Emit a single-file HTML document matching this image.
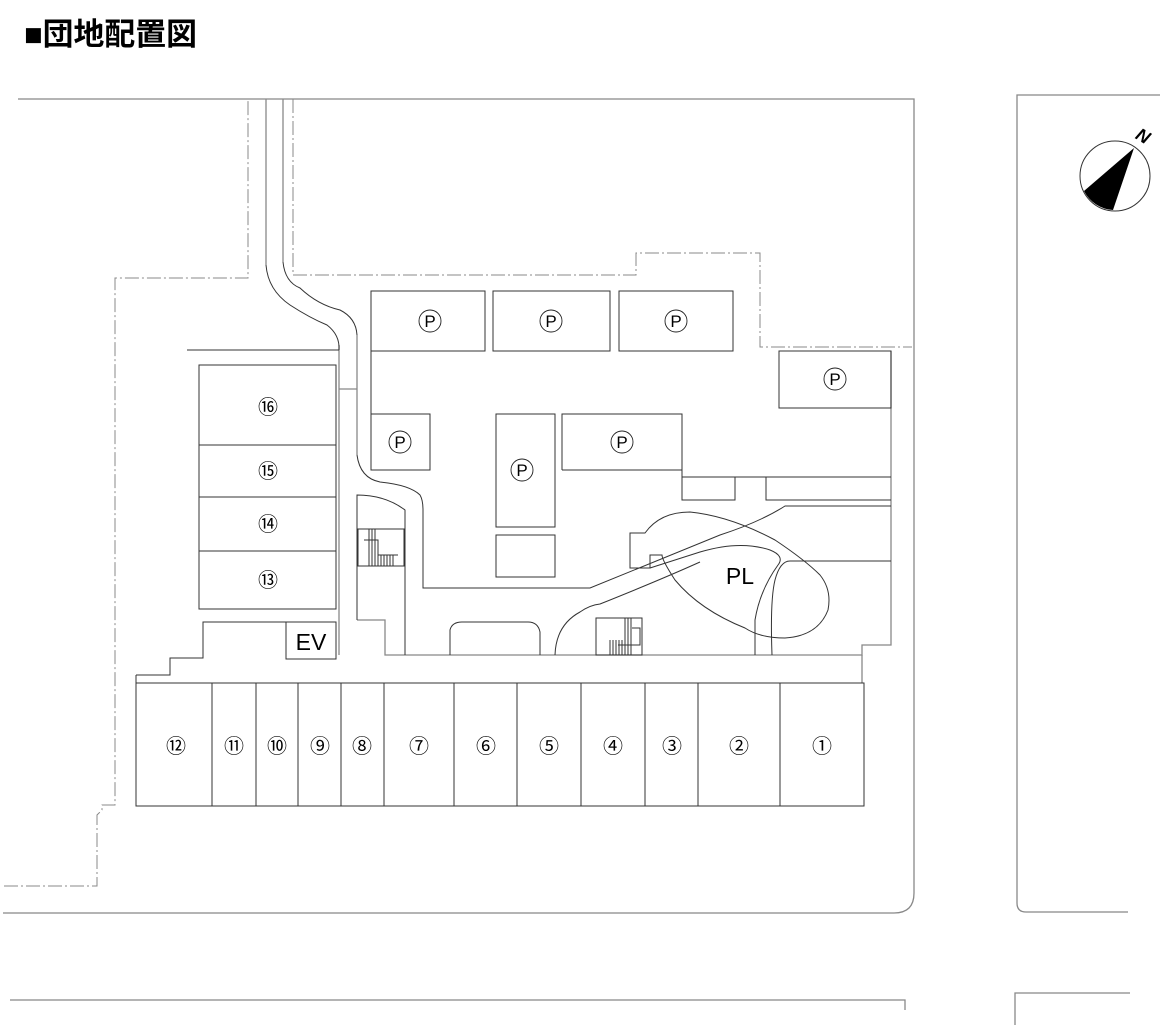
<!DOCTYPE html>
<html><head><meta charset="utf-8"><style>
html,body{margin:0;padding:0;background:#fff;width:1166px;height:1025px;overflow:hidden}
svg{display:block}
text{font-family:"Liberation Sans","Noto Sans CJK JP",sans-serif}
</style></head><body>
<svg width="1166" height="1025" viewBox="0 0 1166 1025" xmlns="http://www.w3.org/2000/svg">
<text x="24" y="45" font-size="31" font-weight="bold" fill="#000" textLength="173" lengthAdjust="spacingAndGlyphs" font-family="'Liberation Sans','Noto Sans CJK JP',sans-serif">■団地配置図</text>

<g fill="none" stroke="#888" stroke-width="1.3">
<path d="M18,99 H914 V893 Q914,913 894,913 H3"/>
<path d="M1160,95 H1017 V903 Q1017,912 1026,912 H1128"/>
<path d="M10,1000 H905 V1010"/>
<path d="M1130,993 H1015 V1025"/>
<path d="M357,620 H385 V655 H862 V645 H891 V351"/>
<path d="M862,655 V683"/>
<path d="M339,389 H357"/>
<path d="M339,345 V655"/>
<path d="M357,335 V455"/>
<path d="M266,99 V265"/>
<path d="M283,99 V262"/>
</g>
<g fill="none" stroke="#888" stroke-width="1" stroke-dasharray="14,3,2,3">
<path d="M4,886 H97 V815 L102,810 V805 H115 V278 H248 V99"/>
<path d="M293,99 V275 H636 V253 H760 V347 H912"/>
</g>

<g fill="none" stroke="#333" stroke-width="1">
<path d="M266,265 Q268,290 290,305 Q310,318 327,325 Q340,335 339,350"/>
<path d="M283,262 Q285,282 300,288 Q318,305 340,310 Q356,318 357,335"/>
<path d="M357,455 Q360,478 380,482 Q410,485 420,495 Q423,500 423,510 V588 H590 L720,535 Q760,522 785,506 H891"/>
<path d="M357,510 V495 Q385,495 405,510 V655"/>
<path d="M357,510 V620"/>
<rect x="371" y="291" width="114" height="60"/>
<rect x="493" y="291" width="117" height="60"/>
<rect x="619" y="291" width="114" height="60"/>
<rect x="779" y="351" width="112" height="57"/>
<rect x="371" y="414" width="59" height="56"/>
<rect x="496" y="414" width="59" height="113"/>
<rect x="496" y="535" width="59" height="42"/>
<path d="M371,351 V414 M430,470 V414"/>
<path d="M562,470 V414 H682 V477 H891 M562,470 H682"/>
<path d="M682,477 V500 H735 V477 M766,477 V500 H891"/>
<path d="M891,561 H790 Q780,561 775,580 Q770,600 772,655"/>
<path d="M630,533 H645 Q660,512 690,512 Q730,516 775,540 Q805,560 820,575 Q832,590 828,610 Q818,636 785,638 Q760,638 745,628 Q700,610 675,580 Q662,560 662,555 H650 V568 H630 Z"/>
<path d="M650,568 L700,552 Q740,540 770,550 Q785,556 778,565 Q760,590 755,620 V655"/>
<path d="M555,655 Q556,625 580,612 Q590,605 600,604 Q660,580 700,562"/>
<path d="M450,655 V630 Q452,622 462,622 H528 Q538,622 540,632 V655"/>
<rect x="358" y="529" width="46" height="37"/>
<path d="M364,540 H378 V555 H398 M369,529 V566 M372,529 V566 M375,529 V566 M378,555 V566 M381,555 V566 M384,555 V566 M387,555 V566 M390,555 V566 M393,555 V566"/>
<rect x="596" y="618" width="46" height="37"/>
<path d="M632,628 H640 V645 H618 M625,618 V655 M628,618 V655 M631,618 V655 M622,640 V655 M619,640 V655 M616,640 V655 M613,640 V655 M610,640 V655"/>
<path d="M187,350 H339"/>
<rect x="199" y="365" width="137" height="80"/>
<rect x="199" y="445" width="137" height="52"/>
<rect x="199" y="497" width="137" height="54"/>
<rect x="199" y="551" width="137" height="58"/>
<rect x="286" y="622" width="50" height="37"/>
<path d="M286,622 H203 V658 H170 V675 H136"/>
<rect x="136" y="683" width="728" height="123"/>
<path d="M212,683 V806 M256,683 V806 M298,683 V806 M341,683 V806 M384,683 V806 M454,683 V806 M517,683 V806 M581,683 V806 M645,683 V806 M698,683 V806 M780,683 V806"/>
<path d="M136,675 V683"/>
</g>

<g fill="none" stroke="#222" stroke-width="0.9">
<circle cx="430" cy="321" r="11"/><circle cx="551" cy="321" r="11"/><circle cx="676" cy="321" r="11"/>
<circle cx="835" cy="379" r="11"/><circle cx="400" cy="442" r="11"/><circle cx="522" cy="470" r="11"/><circle cx="622" cy="442" r="11"/>
</g>
<g font-size="17" text-anchor="middle" fill="#000">
<text x="430" y="327">P</text><text x="551" y="327">P</text><text x="676" y="327">P</text>
<text x="835" y="385">P</text><text x="400" y="448">P</text><text x="522" y="476">P</text><text x="622" y="448">P</text>
<text x="740" y="584" font-size="23">PL</text>
<text x="311" y="650" font-size="23">EV</text>
</g>
<g font-size="20" text-anchor="middle" fill="#000" font-family="'Liberation Sans','Noto Sans CJK JP',sans-serif">
<text x="268" y="414">⑯</text><text x="268" y="478">⑮</text><text x="268" y="531">⑭</text><text x="268" y="587">⑬</text>
<text x="176" y="753">⑫</text><text x="234" y="753">⑪</text><text x="277" y="753">⑩</text><text x="320" y="753">⑨</text><text x="362" y="753">⑧</text><text x="419" y="753">⑦</text><text x="486" y="753">⑥</text><text x="549" y="753">⑤</text><text x="613" y="753">④</text><text x="672" y="753">③</text><text x="739" y="753">②</text><text x="822" y="753">①</text>
</g>

<circle cx="1115" cy="176" r="35" fill="none" stroke="#333" stroke-width="1"/>
<path d="M1134,148 L1084,191 A35,35 0 0 0 1113,210 Z" fill="#000"/>
<text x="1143" y="142" font-size="18" font-style="italic" font-weight="bold" text-anchor="middle" transform="rotate(30 1143 136)">N</text>
</svg>
</body></html>
